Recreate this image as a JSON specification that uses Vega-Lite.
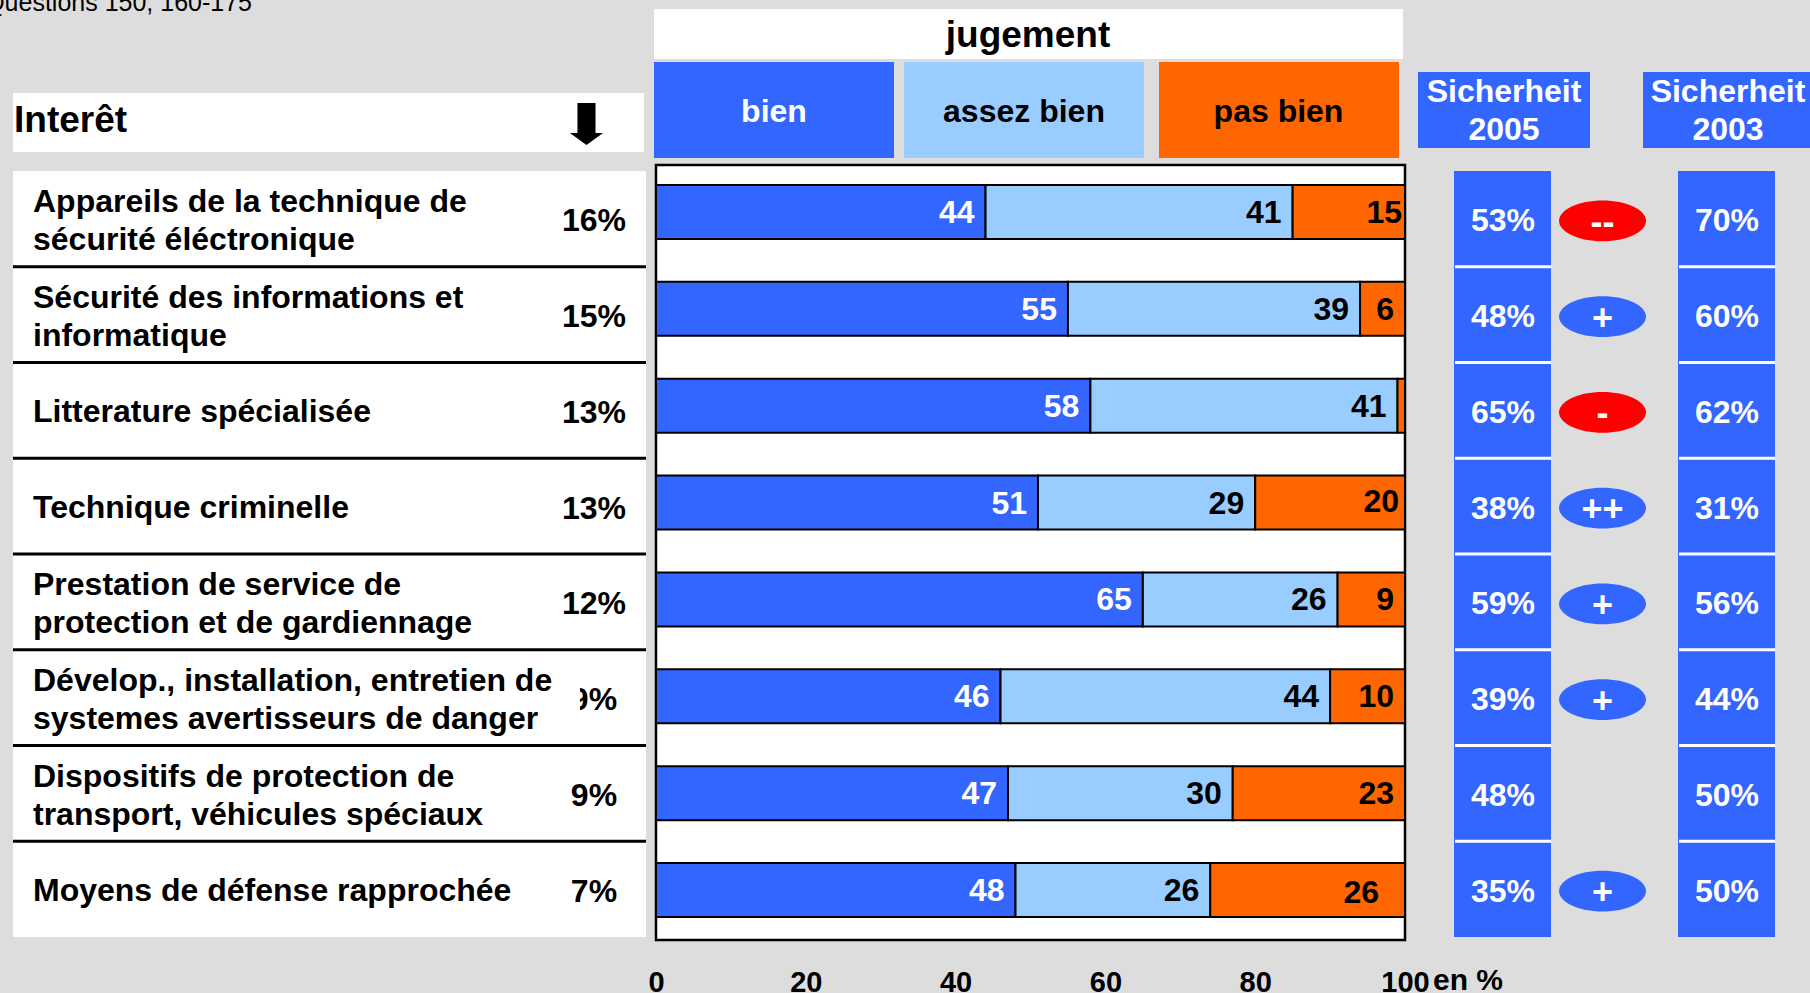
{
"$schema":"https://vega.github.io/schema/vega-lite/v6.json",
"width":1810,"height":993,"padding":0,"autosize":"none","background":"#DDDDDD",
"config":{"view":{"stroke":null},"font":"Liberation Sans"},
"datasets":{
"segments":[
{"rang":1,"jugement":"bien","ordre":1,"valeur":44},{"rang":1,"jugement":"assez bien","ordre":2,"valeur":41},{"rang":1,"jugement":"pas bien","ordre":3,"valeur":15},
{"rang":2,"jugement":"bien","ordre":1,"valeur":55},{"rang":2,"jugement":"assez bien","ordre":2,"valeur":39},{"rang":2,"jugement":"pas bien","ordre":3,"valeur":6},
{"rang":3,"jugement":"bien","ordre":1,"valeur":58},{"rang":3,"jugement":"assez bien","ordre":2,"valeur":41},{"rang":3,"jugement":"pas bien","ordre":3,"valeur":1},
{"rang":4,"jugement":"bien","ordre":1,"valeur":51},{"rang":4,"jugement":"assez bien","ordre":2,"valeur":29},{"rang":4,"jugement":"pas bien","ordre":3,"valeur":20},
{"rang":5,"jugement":"bien","ordre":1,"valeur":65},{"rang":5,"jugement":"assez bien","ordre":2,"valeur":26},{"rang":5,"jugement":"pas bien","ordre":3,"valeur":9},
{"rang":6,"jugement":"bien","ordre":1,"valeur":46},{"rang":6,"jugement":"assez bien","ordre":2,"valeur":44},{"rang":6,"jugement":"pas bien","ordre":3,"valeur":10},
{"rang":7,"jugement":"bien","ordre":1,"valeur":47},{"rang":7,"jugement":"assez bien","ordre":2,"valeur":30},{"rang":7,"jugement":"pas bien","ordre":3,"valeur":23},
{"rang":8,"jugement":"bien","ordre":1,"valeur":48},{"rang":8,"jugement":"assez bien","ordre":2,"valeur":26},{"rang":8,"jugement":"pas bien","ordre":3,"valeur":26}
],
"lignes":[
{"rang":1,"domaine":"Appareils de la technique de\nsécurité éléctronique","interet":0.16,"s2005":0.53,"s2003":0.70,"tendance":"--"},
{"rang":2,"domaine":"Sécurité des informations et\ninformatique","interet":0.15,"s2005":0.48,"s2003":0.60,"tendance":"+"},
{"rang":3,"domaine":"Litterature spécialisée","interet":0.13,"s2005":0.65,"s2003":0.62,"tendance":"-"},
{"rang":4,"domaine":"Technique criminelle","interet":0.13,"s2005":0.38,"s2003":0.31,"tendance":"++"},
{"rang":5,"domaine":"Prestation de service de\nprotection et de gardiennage","interet":0.12,"s2005":0.59,"s2003":0.56,"tendance":"+"},
{"rang":6,"domaine":"Dévelop., installation, entretien de\nsystemes avertisseurs de danger","interet":0.09,"s2005":0.39,"s2003":0.44,"tendance":"+"},
{"rang":7,"domaine":"Dispositifs de protection de\ntransport, véhicules spéciaux","interet":0.09,"s2005":0.48,"s2003":0.50,"tendance":""},
{"rang":8,"domaine":"Moyens de défense rapprochée","interet":0.07,"s2005":0.35,"s2003":0.50,"tendance":"+"}
]
},
"resolve":{"scale":{"y":"independent"}},
"layer":[
{"data":{"values":[{"panneau":1}]},"layer":[
{"mark":{"type":"rect","fill":"white"},"encoding":{
 "x":{"datum":-0.267,"type":"quantitative","scale":{"domain":[-87.583,154.072],"nice":false,"zero":false,"padding":0}},"x2":{"datum":99.733},
 "y":{"datum":-1.0958,"type":"quantitative","axis":null,"scale":{"domain":[-1.1887,9.0632],"reverse":true,"nice":false,"zero":false,"padding":0}},"y2":{"datum":-0.5796}}},
{"mark":{"type":"rect","fill":"#3366FF"},"encoding":{"x":{"datum":-0.267,"type":"quantitative"},"x2":{"datum":31.776},"y":{"datum":-0.5486,"type":"quantitative","axis":null},"y2":{"datum":0.4425}}},
{"mark":{"type":"rect","fill":"#99CCFF"},"encoding":{"x":{"datum":33.111,"type":"quantitative"},"x2":{"datum":65.154},"y":{"datum":-0.5486,"type":"quantitative","axis":null},"y2":{"datum":0.4425}}},
{"mark":{"type":"rect","fill":"#FF6600"},"encoding":{"x":{"datum":67.156,"type":"quantitative"},"x2":{"datum":99.199},"y":{"datum":-0.5486,"type":"quantitative","axis":null},"y2":{"datum":0.4425}}},
{"mark":{"type":"rect","fill":"#3366FF"},"encoding":{"x":{"datum":101.736,"type":"quantitative"},"x2":{"datum":124.7},"y":{"datum":-0.4454,"type":"quantitative","axis":null},"y2":{"datum":0.3392}}},
{"mark":{"type":"rect","fill":"#3366FF"},"encoding":{"x":{"datum":131.776,"type":"quantitative"},"x2":{"datum":154.072},"y":{"datum":-0.4454,"type":"quantitative","axis":null},"y2":{"datum":0.3392}}},
{"mark":{"type":"rect","fill":"white"},"encoding":{"x":{"datum":-85.847,"type":"quantitative"},"x2":{"datum":-1.602},"y":{"datum":-0.2286,"type":"quantitative","axis":null},"y2":{"datum":0.3805}}},
{"mark":{"type":"rect","fill":"white"},"encoding":{"x":{"datum":-85.847,"type":"quantitative"},"x2":{"datum":-1.335},"y":{"datum":0.5767,"type":"quantitative","axis":null},"y2":{"datum":8.485}}},
{"mark":{"type":"rect","fill":"#3366FF"},"encoding":{"x":{"datum":106.542,"type":"quantitative"},"x2":{"datum":119.493},"y":{"datum":0.5767,"type":"quantitative","axis":null},"y2":{"datum":8.485}}},
{"mark":{"type":"rect","fill":"#3366FF"},"encoding":{"x":{"datum":136.449,"type":"quantitative"},"x2":{"datum":149.399},"y":{"datum":0.5767,"type":"quantitative","axis":null},"y2":{"datum":8.485}}},
{"mark":{"type":"rect","fill":"white","stroke":"black","strokeWidth":2.5},"encoding":{"x":{"datum":0,"type":"quantitative"},"x2":{"datum":100},"y":{"datum":0.5148,"type":"quantitative","axis":null},"y2":{"datum":8.516}}},
{"data":{"name":"segments"},"mark":{"type":"bar","orient":"horizontal","height":54,"stroke":"black","strokeWidth":2},"encoding":{
 "x":{"field":"valeur","type":"quantitative","stack":"zero","scale":{"domain":[-87.583,154.072],"nice":false,"zero":false,"padding":0},
  "axis":{"values":[0,20,40,60,80,100],"title":null,"domain":false,"ticks":false,"grid":false,"labelFont":"Liberation Sans","labelFontSize":29,"labelFontWeight":"bold","labelColor":"black","labelPadding":0,"labelFlush":false,"labelOverlap":false,"offset":-25}},
 "y":{"field":"rang","type":"quantitative","axis":null,"scale":{"domain":[-1.1887,9.0632],"reverse":true,"nice":false,"zero":false,"padding":0}},
 "color":{"field":"jugement","type":"nominal","legend":null,"scale":{"domain":["bien","assez bien","pas bien"],"range":["#3366FF","#99CCFF","#FF6600"]}},
 "order":{"field":"ordre"}}},
{"data":{"name":"segments"},"transform":[{"stack":"valeur","groupby":["rang"],"sort":[{"field":"ordre"}],"as":["debut","fin"]}],
 "encoding":{"x":{"field":"fin","type":"quantitative"},"y":{"field":"rang","type":"quantitative","axis":null},"text":{"field":"valeur","type":"quantitative"},
  "color":{"condition":{"test":"datum.jugement==='bien'","value":"white"},"value":"black"}},
 "layer":[
 {"transform":[{"filter":"datum.jugement!=='pas bien' || indexof([2,5,6,7],datum.rang)>=0"}],"mark":{"type":"text","align":"right","baseline":"middle","fontSize":32,"fontWeight":"bold","dx":-11,"dy":1}},
 {"transform":[{"filter":"datum.jugement==='pas bien' && datum.rang===1"}],"mark":{"type":"text","align":"right","baseline":"middle","fontSize":32,"fontWeight":"bold","dx":-3,"dy":1}},
 {"transform":[{"filter":"datum.jugement==='pas bien' && datum.rang===4"}],"mark":{"type":"text","align":"right","baseline":"middle","fontSize":32,"fontWeight":"bold","dx":-6,"dy":-1}},
 {"transform":[{"filter":"datum.jugement==='pas bien' && datum.rang===8"}],"mark":{"type":"text","align":"right","baseline":"middle","fontSize":32,"fontWeight":"bold","dx":-26,"dy":3}}
 ]},
{"mark":{"type":"text","align":"center","baseline":"middle","fontSize":37,"fontWeight":"bold","color":"black","dy":1},"encoding":{"text":{"value":"jugement"},"x":{"datum":49.666,"type":"quantitative"},"y":{"datum":-0.8274,"type":"quantitative","axis":null}}},
{"mark":{"type":"text","align":"center","baseline":"middle","fontSize":32,"fontWeight":"bold","color":"white","dy":1},"encoding":{"text":{"value":"bien"},"x":{"datum":15.754,"type":"quantitative"},"y":{"datum":-0.0427,"type":"quantitative","axis":null}}},
{"mark":{"type":"text","align":"center","baseline":"middle","fontSize":32,"fontWeight":"bold","color":"black","dy":1},"encoding":{"text":{"value":"assez bien"},"x":{"datum":49.132,"type":"quantitative"},"y":{"datum":-0.0427,"type":"quantitative","axis":null}}},
{"mark":{"type":"text","align":"center","baseline":"middle","fontSize":32,"fontWeight":"bold","color":"black","dy":1},"encoding":{"text":{"value":"pas bien"},"x":{"datum":83.111,"type":"quantitative"},"y":{"datum":-0.0427,"type":"quantitative","axis":null}}},
{"mark":{"type":"text","align":"center","baseline":"middle","fontSize":32,"fontWeight":"bold","color":"white","lineBreak":"\n","lineHeight":38},"encoding":{"text":{"value":"Sicherheit\n2005"},"x":{"datum":113.218,"type":"quantitative"},"y":{"datum":-0.2358,"type":"quantitative","axis":null}}},
{"mark":{"type":"text","align":"center","baseline":"middle","fontSize":32,"fontWeight":"bold","color":"white","lineBreak":"\n","lineHeight":38},"encoding":{"text":{"value":"Sicherheit\n2003"},"x":{"datum":143.124,"type":"quantitative"},"y":{"datum":-0.2358,"type":"quantitative","axis":null}}},
{"mark":{"type":"text","align":"left","baseline":"middle","fontSize":37,"fontWeight":"bold","color":"black","dy":1},"encoding":{"text":{"value":"Interêt"},"x":{"datum":-85.714,"type":"quantitative"},"y":{"datum":0.0502,"type":"quantitative","axis":null}}},
{"mark":{"type":"point","filled":true,"fill":"black","opacity":1,"strokeWidth":0,"size":1764,"shape":"M-0.43 -1L0.43 -1L0.43 0.43L0.79 0.43L0 1L-0.79 0.43L-0.43 0.43Z"},"encoding":{"x":{"datum":-9.279,"type":"quantitative"},"y":{"datum":0.0915,"type":"quantitative","axis":null}}},
{"mark":{"type":"text","align":"right","baseline":"alphabetic","fontSize":25,"color":"black"},"encoding":{"text":{"value":"Questions 150, 160-175"},"x":{"datum":-53.94,"type":"quantitative"},"y":{"datum":-1.075,"type":"quantitative","axis":null}}},
{"mark":{"type":"text","align":"left","baseline":"middle","fontSize":30,"fontWeight":"bold","color":"black"},"encoding":{"text":{"value":"en %"},"x":{"datum":103.74,"type":"quantitative"},"y":{"datum":8.935,"type":"quantitative","axis":null}}}
]},
{"data":{"name":"lignes"},"layer":[
{"transform":[{"filter":"indexof(datum.domaine,'\\n')<0"}],"mark":{"type":"text","align":"left","baseline":"middle","fontSize":32,"fontWeight":"bold","color":"black","dy":1.5},"encoding":{"text":{"field":"domaine"},"x":{"datum":-83.178,"type":"quantitative"},
 "y":{"field":"rang","type":"quantitative","axis":null,"scale":{"domain":[-1.2859,9.0849],"reverse":true,"nice":false,"zero":false}}}},
{"transform":[{"filter":"indexof(datum.domaine,'\\n')>=0"}],"mark":{"type":"text","align":"left","baseline":"middle","fontSize":32,"fontWeight":"bold","color":"black","lineBreak":"\n","lineHeight":38,"dy":-16.5},"encoding":{"text":{"field":"domaine"},"x":{"datum":-83.178,"type":"quantitative"},"y":{"field":"rang","type":"quantitative","axis":null}}},
{"mark":{"type":"text","align":"center","baseline":"middle","fontSize":32,"fontWeight":"bold","color":"black","dy":2.5},"encoding":{"text":{"field":"interet","format":".0%"},"x":{"datum":-8.278,"type":"quantitative"},"y":{"field":"rang","type":"quantitative","axis":null}}},
{"transform":[{"filter":"datum.rang===6"}],"mark":{"type":"rect","fill":"white"},"encoding":{"x":{"datum":-12.817,"type":"quantitative"},"x2":{"datum":-10.147},"y":{"datum":5.554,"type":"quantitative","axis":null},"y2":{"datum":6.39}}},
{"transform":[{"filter":"datum.rang<8"}],"mark":{"type":"rule","stroke":"black","strokeWidth":3,"yOffset":47.875},"encoding":{"x":{"datum":-85.847,"type":"quantitative"},"x2":{"datum":-1.335},"y":{"field":"rang","type":"quantitative","axis":null}}},
{"transform":[{"filter":"datum.rang<8"}],"mark":{"type":"rule","stroke":"white","strokeWidth":3,"yOffset":47.875},"encoding":{"x":{"datum":106.676,"type":"quantitative"},"x2":{"datum":119.493},"y":{"field":"rang","type":"quantitative","axis":null}}},
{"transform":[{"filter":"datum.rang<8"}],"mark":{"type":"rule","stroke":"white","strokeWidth":3,"yOffset":47.875},"encoding":{"x":{"datum":136.583,"type":"quantitative"},"x2":{"datum":149.399},"y":{"field":"rang","type":"quantitative","axis":null}}},
{"mark":{"type":"text","align":"center","baseline":"middle","fontSize":32,"fontWeight":"bold","color":"white","dy":2.5},"encoding":{"text":{"field":"s2005","format":".0%"},"x":{"datum":113.084,"type":"quantitative"},"y":{"field":"rang","type":"quantitative","axis":null}}},
{"mark":{"type":"text","align":"center","baseline":"middle","fontSize":32,"fontWeight":"bold","color":"white","dy":2.5},"encoding":{"text":{"field":"s2003","format":".0%"},"x":{"datum":142.99,"type":"quantitative"},"y":{"field":"rang","type":"quantitative","axis":null}}},
{"transform":[{"filter":"datum.tendance!==''"}],"mark":{"type":"point","filled":true,"opacity":1,"strokeWidth":0,"size":7569,"shape":"M-1 0A1 0.471 0 1 0 1 0A1 0.471 0 1 0 -1 0Z","yOffset":2},"encoding":{"x":{"datum":126.37,"type":"quantitative"},"y":{"field":"rang","type":"quantitative","axis":null},
 "fill":{"condition":{"test":"indexof(datum.tendance,'-')>=0","value":"#FF0000"},"value":"#3366FF"}}},
{"transform":[{"filter":"datum.tendance!==''"}],"mark":{"type":"text","align":"center","baseline":"middle","fontSize":36,"fontWeight":"bold","color":"white","dy":4},"encoding":{"text":{"field":"tendance"},"x":{"datum":126.37,"type":"quantitative"},"y":{"field":"rang","type":"quantitative","axis":null}}}
]}
]
}
